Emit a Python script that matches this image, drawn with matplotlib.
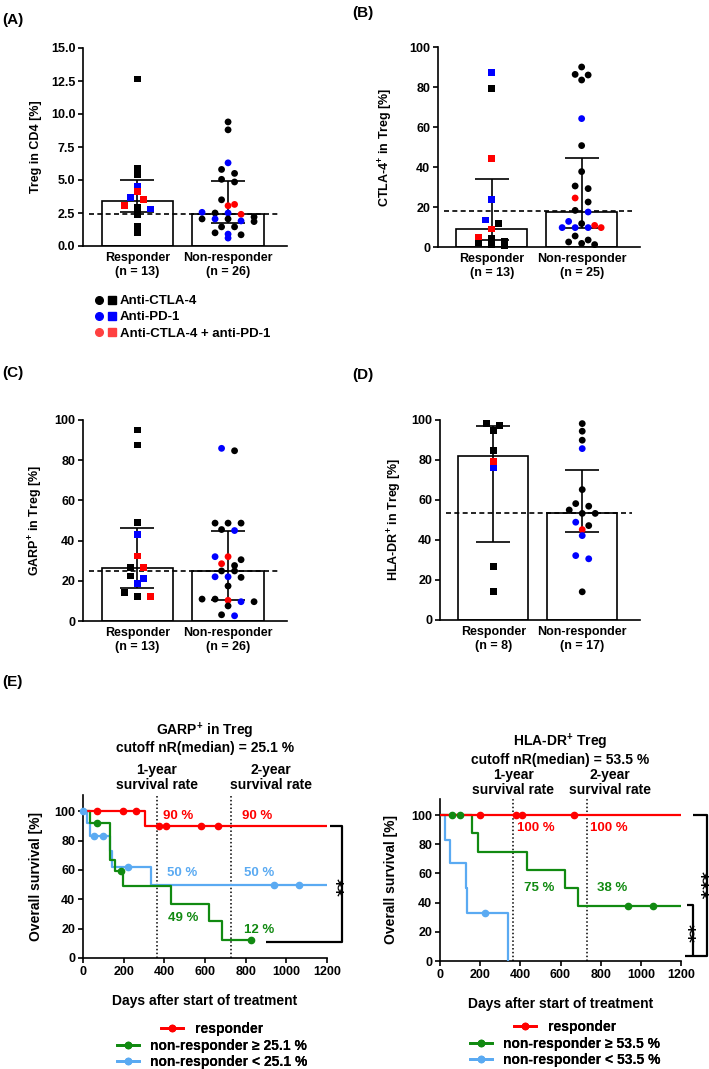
import numpy as np
import matplotlib
matplotlib.use('Agg')
import matplotlib.pyplot as plt
from matplotlib.lines import Line2D
from matplotlib.legend_handler import HandlerTuple

plt.rcParams['font.family'] = ['Liberation Sans', 'DejaVu Sans']
plt.rcParams['font.weight'] = 'bold'
plt.rcParams['axes.labelweight'] = 'bold'
plt.rcParams['mathtext.fontset'] = 'custom'
plt.rcParams['mathtext.rm'] = 'Liberation Sans:bold'
plt.rcParams['mathtext.it'] = 'Liberation Sans:bold'
plt.rcParams['mathtext.bf'] = 'Liberation Sans:bold'

# ---- data: dot plots ----
# treatment: C = anti-CTLA-4, P = anti-PD-1, CP = anti-CTLA-4 + anti-PD-1
a_resp = [12.65, 5.85, 5.4, 4.55, 4.1, 3.65, 3.5, 3.05, 2.9, 2.8, 2.4, 1.45, 1.05]
a_resp_trt = ['C', 'C', 'C', 'P', 'CP', 'P', 'CP', 'CP', 'C', 'P', 'C', 'C', 'C']
a_nonr = [9.4, 8.8, 6.3, 5.8, 5.5, 5.05, 4.85, 3.5, 3.15, 3.05, 2.55, 2.5, 2.5,
          2.4, 2.2, 2.05, 2.05, 2.05, 1.9, 1.85, 1.45, 1.45, 1.0, 0.9, 0.85, 0.6]
a_nonr_trt = ['C', 'C', 'P', 'C', 'C', 'C', 'C', 'C', 'CP', 'CP', 'P', 'C', 'P',
              'CP', 'C', 'C', 'P', 'C', 'P', 'C', 'C', 'C', 'C', 'P', 'C', 'P']
a_stats = [(2.55, 3.4, 5.0), (1.75, 2.42, 4.9)]   # q1, median, q3
a_ref = 2.42

b_resp = [87.3, 79.2, 44.3, 23.7, 13.5, 11.8, 9.0, 5.0, 4.2, 3.0, 2.0, 1.2, 0.8]
b_resp_trt = ['P', 'C', 'CP', 'P', 'P', 'C', 'CP', 'CP', 'C', 'C', 'C', 'C', 'C']
b_nonr = [90.0, 86.3, 86.0, 83.5, 64.2, 50.7, 37.7, 30.5, 29.2, 24.5, 22.5, 18.3, 17.5,
          12.8, 11.7, 10.8, 9.7, 9.7, 9.7, 9.7, 5.5, 3.5, 2.5, 1.8, 1.2]
b_nonr_trt = ['C', 'C', 'C', 'C', 'P', 'C', 'C', 'C', 'C', 'CP', 'C', 'C', 'P',
              'P', 'C', 'CP', 'P', 'P', 'P', 'CP', 'C', 'C', 'C', 'C', 'C']
b_stats = [(3.5, 8.85, 34.0), (9.4, 17.5, 44.5)]
b_ref = 17.8

c_resp = [95.0, 87.6, 48.9, 43.0, 32.3, 26.5, 26.5, 22.4, 21.2, 18.8, 14.0, 12.0, 12.0]
c_resp_trt = ['C', 'C', 'C', 'P', 'CP', 'C', 'CP', 'C', 'P', 'P', 'C', 'C', 'CP']
c_nonr = [85.9, 84.7, 48.7, 48.7, 48.7, 45.5, 45.0, 32.0, 32.0, 30.5, 28.5, 27.6, 24.9,
          24.9, 22.0, 22.0, 21.7, 17.4, 10.9, 10.9, 10.3, 9.6, 9.6, 7.5, 3.1, 2.6]
c_nonr_trt = ['P', 'C', 'C', 'C', 'C', 'C', 'P', 'P', 'CP', 'C', 'CP', 'C', 'C',
              'C', 'P', 'P', 'C', 'C', 'C', 'C', 'CP', 'P', 'C', 'C', 'C', 'P']
c_stats = [(16.6, 26.2, 46.3), (10.4, 24.9, 44.9)]
c_ref = 25.1

d_resp = [98.2, 97.4, 94.9, 84.6, 79.4, 76.0, 26.6, 14.1]
d_resp_trt = ['C', 'C', 'C', 'C', 'CP', 'P', 'C', 'C']
d_nonr = [98.2, 94.4, 89.9, 85.7, 65.2, 58.2, 56.9, 55.0, 53.3, 53.3, 48.9, 47.2,
          45.2, 42.2, 32.2, 30.6, 14.1]
d_nonr_trt = ['C', 'C', 'C', 'P', 'C', 'C', 'C', 'C', 'C', 'C', 'P', 'C',
              'CP', 'P', 'P', 'P', 'C']
d_stats = [(39.1, 82.0, 97.0), (43.9, 53.3, 74.9)]
d_ref = 53.5

trt_colors = {'C': 'black', 'P': '#0000ff', 'CP': '#ff0000'}

# ---- data: Kaplan-Meier curves (step times in days, survival in %) ----
garp_resp_t = [0, 305, 1200]
garp_resp_s = [100, 90, 90]
garp_resp_cens = [69, 197, 261, 374, 408, 580, 664]
garp_hi_t = [0, 35, 133, 157, 197, 433, 620, 683, 826]
garp_hi_s = [100, 92, 67, 59, 49, 37, 25, 12, 12]
garp_hi_cens = [69, 187, 826]
garp_lo_t = [0, 20, 35, 133, 145, 335, 1200]
garp_lo_s = [100, 92, 83, 73, 62, 50, 50]
garp_lo_cens = [0, 54, 100, 222, 940, 1062]

hla_resp_t = [0, 1200]
hla_resp_s = [100, 100]
hla_resp_cens = [199, 379, 408, 667]
hla_hi_t = [0, 158, 190, 433, 622, 687, 1200]
hla_hi_s = [100, 87.5, 75, 62.5, 50, 37.5, 37.5]
hla_hi_cens = [60, 100, 936, 1061]
hla_lo_t = [0, 25, 50, 130, 135, 338]
hla_lo_s = [100, 83, 67, 50, 33, 0]
hla_lo_cens = [224]

km_red = '#ff0000'
km_green = '#118a11'
km_blue = '#5aaaf2'

W, H = 709, 1069
fig = plt.figure(figsize=(W / 100, H / 100), dpi=100)


def add_ax(left, right, top, bottom):
    return fig.add_axes([left / W, 1 - bottom / H, (right - left) / W, (bottom - top) / H])


def style_axes(ax):
    for side in ['top', 'right']:
        ax.spines[side].set_visible(False)
    for side in ['left', 'bottom']:
        ax.spines[side].set_linewidth(1.2)
    ax.tick_params(axis='both', width=1.2, length=3.5, labelsize=9, pad=2)


def swarm(ax, vals, center, step_px=13, tol_px=5):
    vals = np.asarray(vals, float)
    x0, y0 = ax.transData.transform((0, 0))
    x1, y1 = ax.transData.transform((1, 1))
    ppx, ppy = x1 - x0, y1 - y0
    rows = []
    for i in np.argsort(-vals, kind='stable'):
        if rows and (vals[rows[-1][0]] - vals[i]) * ppy < tol_px:
            rows[-1].append(i)
        else:
            rows.append([i])
    xs = np.empty(len(vals))
    for row in rows:
        n = len(row)
        for k, i in enumerate(row):
            xs[i] = center + (k - (n - 1) / 2) * step_px / ppx
    return xs


def dot_panel(ax, groups, stats, ref, ymax, yticks, fmt, ylabel, ns, label_px):
    style_axes(ax)
    ax.set_xlim(-0.6, 1.65)
    ax.set_ylim(0, ymax)
    ax.set_yticks(yticks)
    ax.set_yticklabels([fmt.format(v) for v in yticks])
    ax.set_xticks([0, 1])
    ax.set_xticklabels(['Responder\n(n = %d)' % ns[0], 'Non-responder\n(n = %d)' % ns[1]],
                       fontsize=9, linespacing=1.25)
    ax.tick_params(axis='x', length=0, pad=4)
    meds = [s[1] for s in stats]
    ax.bar([0, 1], meds, width=0.79, color='white', edgecolor='black', linewidth=1.2, zorder=1)
    for i, (q1, med, q3) in enumerate(stats):
        ax.errorbar([i], [med], yerr=[[med - q1], [q3 - med]], fmt='none', ecolor='black',
                    elinewidth=1.2, capsize=12, capthick=1.2, zorder=2)
    ax.axhline(ref, xmin=0.03, xmax=0.96, color='black', lw=1.2, ls=(0, (3, 2)), zorder=2.5)
    for i, ((vals, trt), marker) in enumerate(zip(groups, ['s', 'o'])):
        xs = swarm(ax, vals, i)
        ax.scatter(xs, vals, s=24, marker=marker, c=[trt_colors[t] for t in trt],
                   linewidths=0, zorder=3, clip_on=False)
    ax.set_ylabel(ylabel, fontsize=9)
    w = ax.get_position().width * W
    ax.yaxis.set_label_coords(-label_px / w, 0.5)


axA = add_ax(83, 287, 48, 246)
axB = add_ax(438, 640, 47, 247)
axC = add_ax(83, 287, 420, 621)
axD = add_ax(440, 640, 420, 620)

dot_panel(axA, [(a_resp, a_resp_trt), (a_nonr, a_nonr_trt)], a_stats, a_ref, 15,
          np.arange(0, 15.1, 2.5), '{:.1f}', 'Treg in CD4 [%]', (13, 26), 41)
dot_panel(axB, [(b_resp, b_resp_trt), (b_nonr, b_nonr_trt)], b_stats, b_ref, 100,
          range(0, 101, 20), '{:d}', r'CTLA-4$^{+}$ in Treg [%]', (13, 25), 43)
dot_panel(axC, [(c_resp, c_resp_trt), (c_nonr, c_nonr_trt)], c_stats, c_ref, 100,
          range(0, 101, 20), '{:d}', r'GARP$^{+}$ in Treg [%]', (13, 26), 38)
dot_panel(axD, [(d_resp, d_resp_trt), (d_nonr, d_nonr_trt)], d_stats, d_ref, 100,
          range(0, 101, 20), '{:d}', r'HLA-DR$^{+}$ in Treg [%]', (8, 17), 36)

# treatment legend under panel A
leg_handles = []
for c in ['black', '#0000ff', '#ff4040']:
    leg_handles.append((Line2D([], [], ls='none', marker='o', color=c, ms=5.5),
                        Line2D([], [], ls='none', marker='s', color=c, ms=5.5)))
fig.legend(leg_handles, ['Anti-CTLA-4', 'Anti-PD-1', 'Anti-CTLA-4 + anti-PD-1'],
           handler_map={tuple: HandlerTuple(ndivide=None, pad=0.5)},
           loc='upper left', bbox_to_anchor=(96 / W, 1 - 295 / H), frameon=False,
           fontsize=9.5, handlelength=1.4, handletextpad=0.4, labelspacing=0.3,
           borderpad=0, borderaxespad=0)


# ---- Kaplan-Meier panels ----
def km_curve(ax, t, s, cens, color):
    ax.step(t, s, where='post', color=color, lw=1.6, zorder=3)
    cy = [s[np.searchsorted(t, c, side='right') - 1] for c in cens]
    ax.plot(cens, cy, 'o', color=color, ms=4.5, zorder=4, clip_on=False)


def km_axes(ax, label_px):
    style_axes(ax)
    ax.set_xlim(0, 1200)
    ax.set_ylim(0, 111)
    ax.set_xticks(range(0, 1201, 200))
    ax.set_yticks(range(0, 101, 20))
    ax.set_xlabel('Days after start of treatment', fontsize=10, labelpad=12)
    ax.set_ylabel('Overall survival [%]', fontsize=10)
    w = ax.get_position().width * W
    ax.yaxis.set_label_coords(-label_px / w, 0.5)
    for d in [365, 730]:
        ax.axvline(d, color='black', lw=1.1, ls=(0, (1, 1.5)), zorder=2)


axE1 = add_ax(83, 327, 795, 958)
axE2 = add_ax(440, 681, 799, 961)
km_axes(axE1, 40)
km_axes(axE2, 42)

km_curve(axE1, garp_lo_t, garp_lo_s, garp_lo_cens, km_blue)
km_curve(axE1, garp_hi_t, garp_hi_s, garp_hi_cens, km_green)
km_curve(axE1, garp_resp_t, garp_resp_s, garp_resp_cens, km_red)

km_curve(axE2, hla_lo_t, hla_lo_s, hla_lo_cens, km_blue)
km_curve(axE2, hla_hi_t, hla_hi_s, hla_hi_cens, km_green)
km_curve(axE2, hla_resp_t, hla_resp_s, hla_resp_cens, km_red)

tk = dict(fontsize=10, ha='center', va='center', clip_on=False)
axE1.text(600, 150, 'GARP$^{+}$ in Treg\ncutoff nR(median) = 25.1 %', linespacing=1.05, **tk)
axE1.text(364, 123, '1-year\nsurvival rate', linespacing=1.1, **tk)
axE1.text(925, 123, '2-year\nsurvival rate', linespacing=1.1, **tk)
axE2.text(597, 145, 'HLA-DR$^{+}$ Treg\ncutoff nR(median) = 53.5 %', linespacing=1.05, **tk)
axE2.text(365, 122, '1-year\nsurvival rate', linespacing=1.1, **tk)
axE2.text(846, 122, '2-year\nsurvival rate', linespacing=1.1, **tk)

pk = dict(fontsize=9.5, ha='center', va='center')
axE1.text(467, 96.5, '90 %', color=km_red, **pk)
axE1.text(855, 96.5, '90 %', color=km_red, **pk)
axE1.text(487, 58, '50 %', color=km_blue, **pk)
axE1.text(867, 58, '50 %', color=km_blue, **pk)
axE1.text(493, 27, '49 %', color=km_green, **pk)
axE1.text(867, 19, '12 %', color=km_green, **pk)
axE2.text(478, 91, '100 %', color=km_red, **pk)
axE2.text(842, 91, '100 %', color=km_red, **pk)
axE2.text(493, 50, '75 %', color=km_green, **pk)
axE2.text(857, 50, '38 %', color=km_green, **pk)

# significance brackets
bk = dict(color='black', lw=1.6, clip_on=False, solid_capstyle='butt')
sk = dict(rotation=270, fontsize=13, family='DejaVu Sans', fontweight='bold',
          ha='center', va='center', clip_on=False)
axE1.plot([900, 1274, 1274, 1215], [11, 11, 90, 90], **bk)
axE1.text(1236, 48, '**', **sk)
axE2.plot([1220, 1329, 1329, 1260], [3.5, 3.5, 100, 100], **bk)
axE2.plot([1260, 1260, 1230], [3.5, 38.5, 38.5], **bk)
axE2.text(1230, 19, '**', **sk)
axE2.text(1294, 52, '***', **sk)


def km_legend(cx, rows_y, labels):
    for (c, lab), y in zip(zip([km_red, km_green, km_blue], labels), rows_y):
        h = Line2D([], [], color=c, lw=2, marker='o', ms=4.5)
        lg = fig.legend([h], [lab], loc='center', bbox_to_anchor=(cx / W, 1 - y / H),
                        frameon=False, fontsize=10, handlelength=1.6, handletextpad=0.8,
                        borderpad=0, borderaxespad=0)
        fig.add_artist(lg)


km_legend(212, [1029, 1046, 1062],
          ['responder', 'non-responder \u2265 25.1 %', 'non-responder < 25.1 %'])
km_legend(565, [1027, 1044, 1060],
          ['responder', 'non-responder \u2265 53.5 %', 'non-responder < 53.5 %'])

# panel letters
for lab, x, y in [('(A)', 2, 20), ('(B)', 352, 13), ('(C)', 2, 373),
                  ('(D)', 352, 375), ('(E)', 2, 682)]:
    fig.text(x / W, 1 - y / H, lab, fontsize=11, ha='left', va='center')

fig.savefig('out.png', dpi=100)
